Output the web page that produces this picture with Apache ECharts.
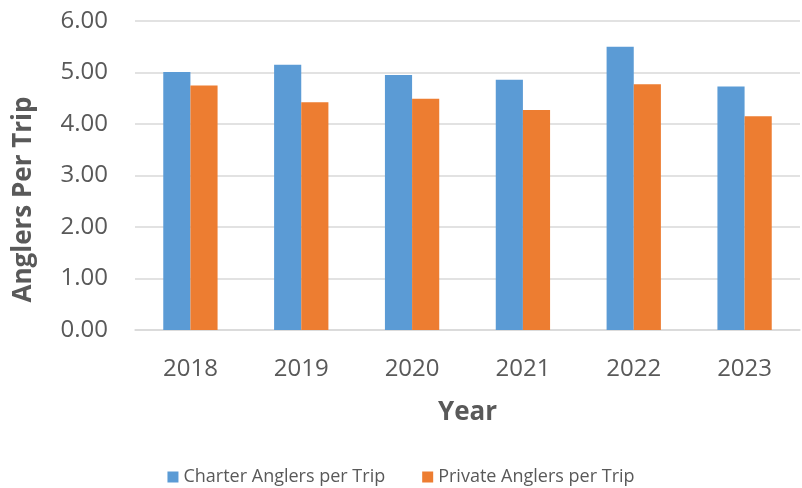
<!DOCTYPE html>
<html><head><meta charset="utf-8">
<script src="https://cdn.jsdelivr.net/npm/echarts@6/dist/echarts.min.js"></script>
<style>html,body{margin:0;padding:0;background:#fff}#c{width:802px;height:488px}</style>
</head><body><div id="c"></div>
<script>
const years = ['2018','2019','2020','2021','2022','2023'];
const charter = [5.01, 5.15, 4.95, 4.86, 5.50, 4.73];
const privateTrips = [4.75, 4.42, 4.49, 4.27, 4.77, 4.15];
const chart = echarts.init(document.getElementById('c'));
const font = '"Open Sans", "Noto Sans", sans-serif';
chart.setOption({
  animation: false,
  textStyle: { fontFamily: font },
  grid: { left: 135, right: 2, top: 21, bottom: 158, containLabel: false, outerBoundsMode: 'none' },
  legend: {
    top: 463, left: 'center', itemWidth: 11, itemHeight: 11, itemGap: 37,
    icon: 'rect',
    textStyle: { fontSize: 18, color: '#595959', fontFamily: font },
    data: ['Charter Anglers per Trip', 'Private Anglers per Trip']
  },
  xAxis: {
    type: 'category', data: years,
    name: 'Year', nameLocation: 'middle', nameGap: 70,
    nameTextStyle: { fontSize: 26, fontWeight: 'bold', color: '#595959', fontFamily: font },
    axisLine: { lineStyle: { color: '#d9d9d9', width: 1.5 } },
    axisTick: { show: false },
    axisLabel: { fontSize: 24, color: '#595959', margin: 27, fontFamily: font }
  },
  yAxis: {
    type: 'value', min: 0, max: 6, interval: 1,
    name: 'Anglers Per Trip', nameLocation: 'middle', nameGap: 98,
    nameTextStyle: { fontSize: 26, fontWeight: 'bold', color: '#595959', fontFamily: font, padding: [0, 48, 0, 0] },
    axisLabel: { fontSize: 24, color: '#595959', margin: 27, fontFamily: font, formatter: v => v.toFixed(2) },
    splitLine: { lineStyle: { color: '#d9d9d9', width: 1.5 } },
    axisLine: { show: false }, axisTick: { show: false }
  },
  series: [
    { name: 'Charter Anglers per Trip', type: 'bar', data: charter, barGap: '0%', barCategoryGap: '51%',
      itemStyle: { color: '#5b9bd5' } },
    { name: 'Private Anglers per Trip', type: 'bar', data: privateTrips, barGap: '0%', barCategoryGap: '51%',
      itemStyle: { color: '#ed7d31' } }
  ]
});
</script></body></html>
